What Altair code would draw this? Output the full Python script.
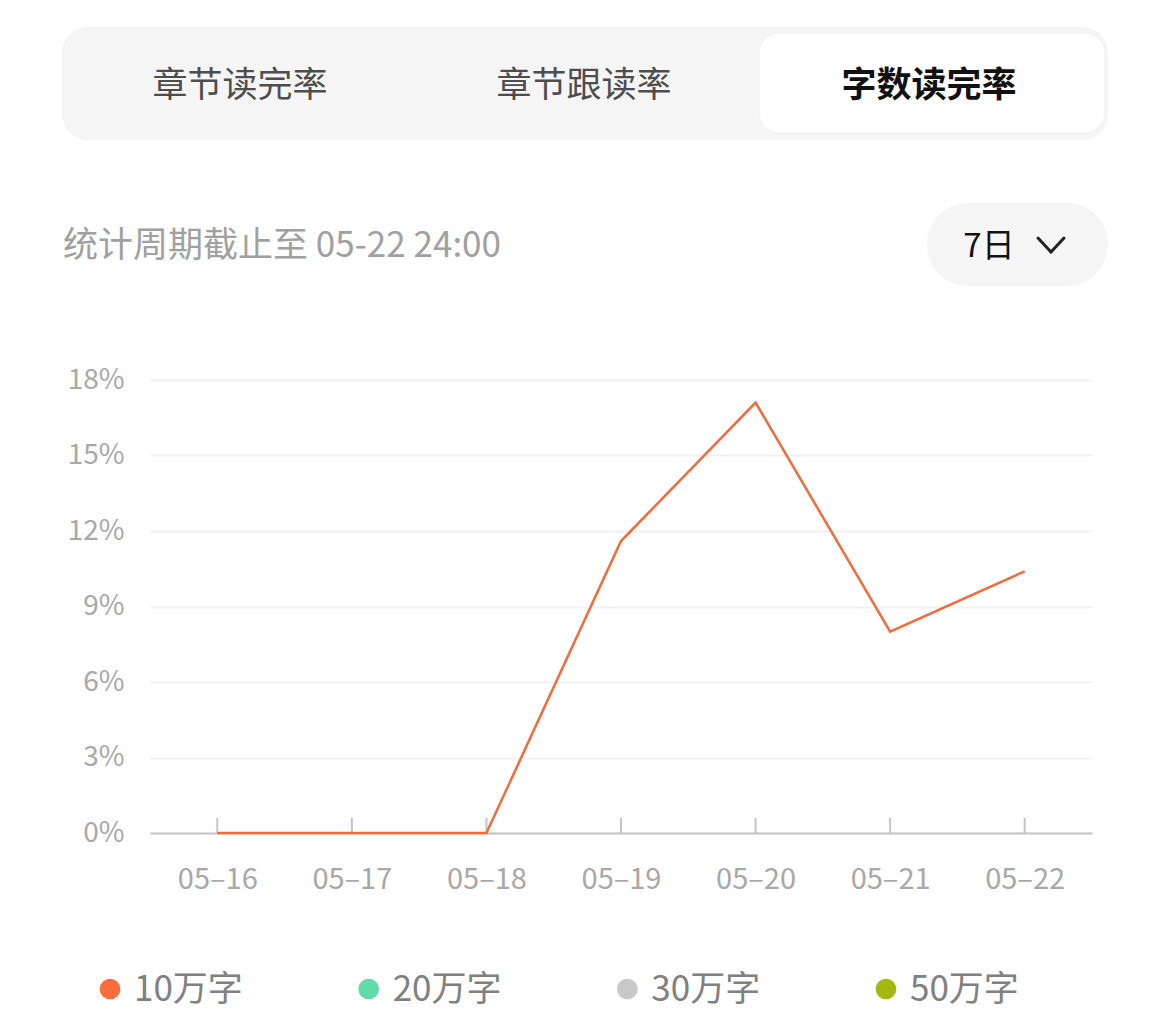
import altair as alt
import pandas as pd

FONT = "Noto Sans CJK SC"

# ---- data ----
dates = ["05–16", "05–17", "05–18", "05–19", "05–20", "05–21", "05–22"]
rates = [0.0, 0.0, 0.0, 11.6, 17.1, 8.0, 10.4]
y_ticks = [0, 3, 6, 9, 12, 15, 18]
series_names = ["10万字", "20万字", "30万字", "50万字"]
series_colors = ["#ff6d3d", "#5fdcaa", "#c8c8c8", "#a4b812"]
tabs = ["章节读完率", "章节跟读率", "字数读完率"]
subtitle = "统计周期截止至 05-22 24:00"
period_label = "7日"

df = pd.DataFrame({"date": dates, "rate": rates})
leg = pd.DataFrame({"name": series_names, "color": series_colors})
one = alt.Data(values=[{"k": 1}])

W, H = 942, 453

x_scale = alt.Scale(type="point", padding=0.5)
y_scale = alt.Scale(domain=[0, 18], nice=False)

x_enc = alt.X(
    "date:N", sort=dates, scale=x_scale,
    axis=alt.Axis(
        title=None, labelAngle=0, ticks=False, tickSize=0, labelPadding=32,
        labelFontSize=29, labelColor="#a8a8a8", labelFont=FONT,
        domainColor="#c4c4c4", domainWidth=2, grid=False,
    ),
)
y_enc = alt.Y(
    "rate:Q", scale=y_scale,
    axis=alt.Axis(
        title=None, values=y_ticks, ticks=False, tickSize=0, labelPadding=26,
        labelExpr="datum.value + '%'", labelFontSize=28, labelColor="#a8a8a8",
        labelFont=FONT, domain=False, gridColor="#f1f1f1", gridWidth=2,
    ),
)

# axes + grid, then the data line on top
base_layer = alt.Chart(df).mark_line(color="#f26b3d", strokeWidth=2.5).encode(x=x_enc, y=y_enc)

tick_layer = alt.Chart(df).mark_rule(color="#c4c4c4", strokeWidth=2).encode(
    x=alt.X("date:N", sort=dates, scale=x_scale, axis=None),
    y=alt.value(H),
    y2=alt.value(H - 15),
)

# ---- legend (custom, bottom) ----
leg_x = alt.X("name:N", sort=series_names,
              scale=alt.Scale(type="point", padding=0, range=[-40, 736]), axis=None)
leg_dots = alt.Chart(leg).mark_circle(size=430, opacity=1).encode(
    x=leg_x, y=alt.value(609),
    color=alt.Color("color:N", scale=None),
)
leg_text = alt.Chart(leg).mark_text(
    align="left", baseline="middle", dx=24, fontSize=35, color="#808080", font=FONT
).encode(x=leg_x, y=alt.value(610), text="name:N")

# ---- header decorations ----
tab_bar = alt.Chart(one).mark_rect(color="#f5f5f5", cornerRadius=26).encode(
    x=alt.value(-88), x2=alt.value(958), y=alt.value(-353), y2=alt.value(-240))
tab_sel = alt.Chart(one).mark_rect(color="#ffffff", cornerRadius=20,
                                   stroke="#efefef", strokeWidth=1).encode(
    x=alt.value(609), x2=alt.value(955), y=alt.value(-347), y2=alt.value(-247))
tab_t1 = alt.Chart(one).mark_text(text=tabs[0], fontSize=35, color="#4d4d4d",
                                  font=FONT, baseline="middle").encode(
    x=alt.value(90), y=alt.value(-294))
tab_t2 = alt.Chart(one).mark_text(text=tabs[1], fontSize=35, color="#4d4d4d",
                                  font=FONT, baseline="middle").encode(
    x=alt.value(434), y=alt.value(-294))
tab_t3 = alt.Chart(one).mark_text(text=tabs[2], fontSize=35, color="#111111",
                                  fontWeight="bold", font=FONT, baseline="middle").encode(
    x=alt.value(779), y=alt.value(-294))

sub_t = alt.Chart(one).mark_text(text=subtitle, fontSize=35, color="#a0a0a0",
                                 font=FONT, align="left", baseline="middle").encode(
    x=alt.value(-87), y=alt.value(-134))

pill = alt.Chart(one).mark_rect(color="#f5f5f5", cornerRadius=41).encode(
    x=alt.value(777), x2=alt.value(958), y=alt.value(-177), y2=alt.value(-94))
pill_t = alt.Chart(one).mark_text(text=period_label, fontSize=33, color="#111111",
                                  font=FONT, baseline="middle").encode(
    x=alt.value(839), y=alt.value(-133))
chev1 = alt.Chart(one).mark_rule(color="#222222", strokeWidth=3, strokeCap="round").encode(
    x=alt.value(888), x2=alt.value(901), y=alt.value(-142), y2=alt.value(-128))
chev2 = alt.Chart(one).mark_rule(color="#222222", strokeWidth=3, strokeCap="round").encode(
    x=alt.value(901), x2=alt.value(914), y=alt.value(-128), y2=alt.value(-142))

chart = alt.layer(
    tab_bar, tab_sel, tab_t1, tab_t2, tab_t3, sub_t, pill, pill_t, chev1, chev2,
    tick_layer, base_layer, leg_dots, leg_text,
).resolve_scale(x="independent").properties(
    width=W, height=H,
    autosize=alt.AutoSizeParams(type="none"),
    padding={"left": 142, "top": 372, "right": 62, "bottom": 187},
    background="#ffffff",
).configure(font=FONT).configure_view(stroke=None)

chart.save("out.html", embed_options={"renderer": "svg", "actions": False})
